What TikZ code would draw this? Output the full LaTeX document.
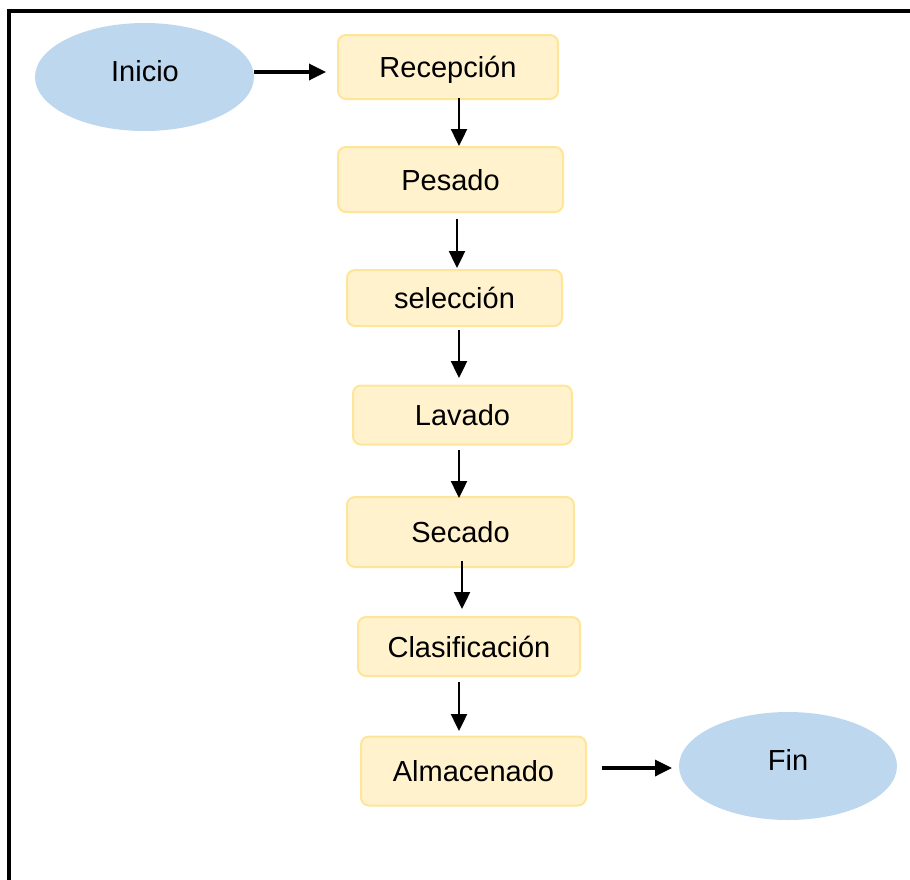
\documentclass[tikz,border=0pt]{standalone}
\usepackage{fontspec}
\setmainfont{Liberation Sans}
\usetikzlibrary{arrows.meta,shapes.geometric}
\definecolor{boxfill}{HTML}{FFF2CC}
\definecolor{boxline}{HTML}{FFE599}
\definecolor{ellfill}{HTML}{BDD7EE}
\begin{document}
\begin{tikzpicture}[x=1pt,y=-1pt,
  txt/.style={font=\fontsize{29}{34}\selectfont, text height=21pt, text depth=0pt},
  stepbox/.style={txt, draw=boxline, fill=boxfill, line width=2pt, rounded corners=8pt, inner sep=0pt},
  terminal/.style={ellipse, fill=ellfill, draw=none, inner sep=0pt, minimum width=219pt, minimum height=108pt},
  lbl/.style={txt, inner sep=0pt},
  arr/.style={-{Triangle[length=17pt,width=16pt]}, line width=2.4pt},
  harr/.style={-{Triangle[length=17pt,width=16pt]}, line width=3.4pt},
  frame/.style={line width=4pt}
]
\useasboundingbox (0,0) rectangle (910,879);
\clip (0,0) rectangle (910,879);
\coordinate (f1) at (9,900);
\coordinate (f2) at (9,10.5);
\coordinate (f3) at (930,10.5);
\draw[frame] (f1) -- (f2) -- (f3);

% terminals
\node[terminal] (ini) at (144.5,77) {};
\node[lbl] (iniT) at (145,71) {Inicio};
\node[terminal, minimum width=218pt] (fin) at (788,766) {};
\node[lbl] (finT) at (788,760) {Fin};

% process boxes
\node[stepbox, minimum width=220pt, minimum height=64pt] (rec) at (448,67) {Recepción};
\node[stepbox, minimum width=225pt, minimum height=65pt] (pes) at (450.5,179.5) {Pesado};
\node[stepbox, minimum width=215pt, minimum height=56pt] (sel) at (454.5,298) {selección};
\node[stepbox, minimum width=219pt, minimum height=59pt] (lav) at (462.5,415) {Lavado};
\node[stepbox, minimum width=227pt, minimum height=70pt] (sec) at (460.5,532) {Secado};
\node[stepbox, minimum width=222pt, minimum height=59pt] (cla) at (469,646.5) {Clasificación};
\node[stepbox, minimum width=225pt, minimum height=69pt] (alm) at (473.5,771) {Almacenado};

% arrow end points
\coordinate (a0s) at (254,72);  \coordinate (a0e) at (326,72);
\coordinate (a1s) at (459,98);  \coordinate (a1e) at (459,146);
\coordinate (a2s) at (457,219); \coordinate (a2e) at (457,268);
\coordinate (a3s) at (459,330); \coordinate (a3e) at (459,378);
\coordinate (a4s) at (459,450); \coordinate (a4e) at (459,498);
\coordinate (a5s) at (462,561); \coordinate (a5e) at (462,609);
\coordinate (a6s) at (459,682); \coordinate (a6e) at (459,731);
\coordinate (a7s) at (602,768); \coordinate (a7e) at (672,768);

\draw[harr] (a0s) -- (a0e);
\draw[arr] (a1s) -- (a1e);
\draw[arr] (a2s) -- (a2e);
\draw[arr] (a3s) -- (a3e);
\draw[arr] (a4s) -- (a4e);
\draw[arr] (a5s) -- (a5e);
\draw[arr] (a6s) -- (a6e);
\draw[harr] (a7s) -- (a7e);
\end{tikzpicture}
\end{document}
